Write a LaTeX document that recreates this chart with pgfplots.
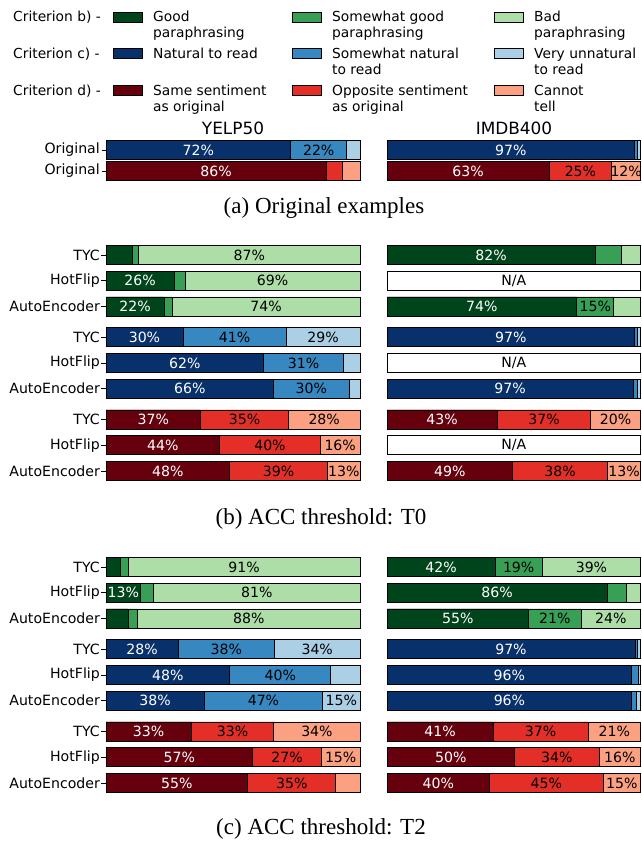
\documentclass[border=0pt]{standalone}
\usepackage{pgfplots}
\pgfplotsset{compat=1.18}
\usepackage{pgfplotstable}
\usepackage{fontspec}
\setmainfont{DejaVu Sans}
\newfontfamily\capfont{Liberation Serif}

\definecolor{gD}{HTML}{00441B}
\definecolor{gM}{HTML}{37A055}
\definecolor{gL}{HTML}{AEDEA7}
\definecolor{bD}{HTML}{08306B}
\definecolor{bM}{HTML}{3787C0}
\definecolor{bL}{HTML}{ABD0E6}
\definecolor{rD}{HTML}{67000D}
\definecolor{rM}{HTML}{E32F27}
\definecolor{rL}{HTML}{FCA082}

\newcommand{\cf}{\fontsize{14.1}{16}\selectfont}
\newcommand{\lf}{\fontsize{13.8}{16}\selectfont}
\newcommand{\tf}{\fontsize{16.9}{19}\selectfont}

\pgfplotsset{
  hb/.style={
    x=2.54pt, xmin=0, xmax=100, y dir=reverse,
    ymin=-0.5,
    axis line style={draw=none}, xtick=\empty, ytick pos=left,
    tick align=outside, major tick length=4.5pt,
    ytick style={black, line width=0.7pt},
    ticklabel style={font=\cf},
    yticklabel style={inner sep=1.5pt},
    clip=false, anchor=north west,
  },
  hr/.style={hb, x=2.535pt, ytick=\empty},
  seg/.style={xbar, bar shift=0pt, bar width=19pt, draw=black, line width=0.8pt, fill=#1},
  lab/.style={draw=none, mark=none, nodes near coords, point meta=explicit symbolic,
    nodes near coords align={center},
    nodes near coords style={font=\cf, text=#1, inner sep=0pt, anchor=center}},
}

\newcommand{\grp}[4]{%
  \addplot[seg=#4] table[x expr=100, y=y]{#1};
  \addplot[seg=#3] table[x=b, y=y]{#1};
  \addplot[seg=#2] table[x=a, y=y]{#1};
  \addplot[lab=white] table[x expr=\thisrow{a}/2, y=y, meta=la]{#1};
  \addplot[lab=black] table[x expr=(\thisrow{a}+\thisrow{b})/2, y=y, meta=lb]{#1};
  \addplot[lab=black] table[x expr=(\thisrow{b}+100)/2, y=y, meta=lc]{#1};
}

% ---------------- (a) Original examples
\pgfplotstableread{
y a b la lb lc
0 72.7 94.8 72\% 22\% {}
}\aYb
\pgfplotstableread{
y a b la lb lc
1 86.6 92.9 86\% {} {}
}\aYr
\pgfplotstableread{
y a b la lb lc
0 97.7 98.8 97\% {} {}
}\aIb
\pgfplotstableread{
y a b la lb lc
1 63.9 88.7 63\% 25\% 12\%
}\aIr

% ---------------- (b) ACC threshold T0
\pgfplotstableread{
y a b la lb lc
0 10.3 12.9 {} {} 87\%
1 26.9 31.1 26\% {} 69\%
2 22.9 26.0 22\% {} 74\%
}\bYg
\pgfplotstableread{
y a b la lb lc
3.2 30.3 70.9 30\% 41\% 29\%
4.2 62.1 93.4 62\% 31\% {}
5.2 66.0 95.7 66\% 30\% {}
}\bYb
\pgfplotstableread{
y a b la lb lc
6.4 37.3 71.8 37\% 35\% 28\%
7.4 44.7 84.4 44\% 40\% 16\%
8.4 48.7 87.2 48\% 39\% 13\%
}\bYr
\pgfplotstableread{
y a b la lb lc
0 82.1 92.6 82\% {} {}
2 74.8 89.5 74\% 15\% {}
}\bIg
\pgfplotstableread{
y a b la lb lc
3.2 97.7 98.8 97\% {} {}
5.2 97.1 98.8 97\% {} {}
}\bIb
\pgfplotstableread{
y a b la lb lc
6.4 43.5 80.4 43\% 37\% 20\%
8.4 49.5 87.1 49\% 38\% 13\%
}\bIr

% ---------------- (c) ACC threshold T2
\pgfplotstableread{
y a b la lb lc
0 5.5 8.7 {} {} 91\%
1 13.7 18.7 13\% {} 81\%
2 8.7 12.4 {} {} 88\%
}\cYg
\pgfplotstableread{
y a b la lb lc
3.2 28.4 66.3 28\% 38\% 34\%
4.2 48.7 88.5 48\% 40\% {}
5.2 38.7 85.3 38\% 47\% 15\%
}\cYb
\pgfplotstableread{
y a b la lb lc
6.4 33.5 66.1 33\% 33\% 34\%
7.4 57.8 84.8 57\% 27\% 15\%
8.4 55.8 90.5 55\% 35\% {}
}\cYr
\pgfplotstableread{
y a b la lb lc
0 42.6 61.3 42\% 19\% 39\%
1 86.8 94.4 86\% {} {}
2 55.8 76.6 55\% 21\% 24\%
}\cIg
\pgfplotstableread{
y a b la lb lc
3.2 97.8 98.9 97\% {} {}
4.2 96.5 99.2 96\% {} {}
5.2 96.6 98.4 96\% {} {}
}\cIb
\pgfplotstableread{
y a b la lb lc
6.4 41.9 79.3 41\% 37\% 21\%
7.4 50.3 83.7 50\% 34\% 16\%
8.4 40.5 85.2 40\% 45\% 15\%
}\cIr

\begin{document}
\begin{tikzpicture}
\useasboundingbox (0pt,0pt) rectangle (641pt,-842pt);

% ---------- legend
\tikzset{lt/.style={font=\lf, anchor=base west, inner sep=0pt}}
\node[lt] at (13pt,-21.8pt) {Criterion b) -};
\node[lt] at (13pt,-58.6pt) {Criterion c) -};
\node[lt] at (13pt,-95.8pt) {Criterion d) -};
\foreach \c/\x in {gD/113, gM/292, gL/494}
  \draw[black, line width=0.7pt, fill=\c] (\x pt,-11.9pt) rectangle ++(29pt,-10pt);
\foreach \c/\x in {bD/113, bM/292, bL/494}
  \draw[black, line width=0.7pt, fill=\c] (\x pt,-48.6pt) rectangle ++(29pt,-10pt);
\foreach \c/\x in {rD/113, rM/292, rL/494}
  \draw[black, line width=0.7pt, fill=\c] (\x pt,-85.8pt) rectangle ++(29pt,-10pt);
\node[lt] at (153pt,-21.8pt) {Good};
\node[lt] at (153pt,-37.5pt) {paraphrasing};
\node[lt] at (332pt,-21.8pt) {Somewhat good};
\node[lt] at (332pt,-37.5pt) {paraphrasing};
\node[lt] at (534pt,-21.8pt) {Bad};
\node[lt] at (534pt,-37.5pt) {paraphrasing};
\node[lt] at (153pt,-58.6pt) {Natural to read};
\node[lt] at (332pt,-58.6pt) {Somewhat natural};
\node[lt] at (332pt,-74.3pt) {to read};
\node[lt] at (534pt,-58.6pt) {Very unnatural};
\node[lt] at (534pt,-74.3pt) {to read};
\node[lt] at (153pt,-95.8pt) {Same sentiment};
\node[lt] at (153pt,-111.5pt) {as original};
\node[lt] at (332pt,-95.8pt) {Opposite sentiment};
\node[lt] at (332pt,-111.5pt) {as original};
\node[lt] at (534pt,-95.8pt) {Cannot};
\node[lt] at (534pt,-111.5pt) {tell};

% ---------- titles
\node[font=\tf, anchor=base, inner sep=0pt] at (233pt,-134.5pt) {YELP50};
\node[font=\tf, anchor=base, inner sep=0pt] at (514pt,-134.5pt) {IMDB400};

% ---------- (a)
\begin{axis}[hb, at={(106pt,-139.5pt)}, y=21pt, ymax=1.5,
  ytick={0,1}, yticklabels={Original,Original}]
  \grp{\aYb}{bD}{bM}{bL}
  \grp{\aYr}{rD}{rM}{rL}
\end{axis}
\begin{axis}[hr, at={(387pt,-139.5pt)}, y=21pt, ymax=1.5]
  \grp{\aIb}{bD}{bM}{bL}
  \grp{\aIr}{rD}{rM}{rL}
\end{axis}

% ---------- (b)
\begin{axis}[hb, at={(106pt,-242.15pt)}, y=25.7pt, ymax=8.9,
  ytick={0,1,2,3.2,4.2,5.2,6.4,7.4,8.4},
  yticklabels={TYC,HotFlip,AutoEncoder,TYC,HotFlip,AutoEncoder,TYC,HotFlip,AutoEncoder}]
  \grp{\bYg}{gD}{gM}{gL}
  \grp{\bYb}{bD}{bM}{bL}
  \grp{\bYr}{rD}{rM}{rL}
\end{axis}
\begin{axis}[hr, at={(387pt,-242.15pt)}, y=25.7pt, ymax=8.9]
  \grp{\bIg}{gD}{gM}{gL}
  \grp{\bIb}{bD}{bM}{bL}
  \grp{\bIr}{rD}{rM}{rL}
  \addplot[seg=white] coordinates {(100,1) (100,4.2) (100,7.4)};
  \addplot[lab=black] coordinates {(50,1) [N/A] (50,4.2) [N/A] (50,7.4) [N/A]};
\end{axis}

% ---------- (c)
\begin{axis}[hb, at={(106pt,-554.15pt)}, y=25.7pt, ymax=8.9,
  ytick={0,1,2,3.2,4.2,5.2,6.4,7.4,8.4},
  yticklabels={TYC,HotFlip,AutoEncoder,TYC,HotFlip,AutoEncoder,TYC,HotFlip,AutoEncoder}]
  \grp{\cYg}{gD}{gM}{gL}
  \grp{\cYb}{bD}{bM}{bL}
  \grp{\cYr}{rD}{rM}{rL}
\end{axis}
\begin{axis}[hr, at={(387pt,-554.15pt)}, y=25.7pt, ymax=8.9]
  \grp{\cIg}{gD}{gM}{gL}
  \grp{\cIb}{bD}{bM}{bL}
  \grp{\cIr}{rD}{rM}{rL}
\end{axis}

% ---------- captions
\tikzset{cp/.style={font=\capfont\fontsize{23}{27}\selectfont, anchor=base, inner sep=0pt}}
\node[cp] at (324pt,-214pt) {(a) Original examples};
\node[cp] at (321pt,-524pt) {(b) ACC threshold: T0};
\node[cp] at (321pt,-834pt) {(c) ACC threshold: T2};
\end{tikzpicture}
\end{document}
